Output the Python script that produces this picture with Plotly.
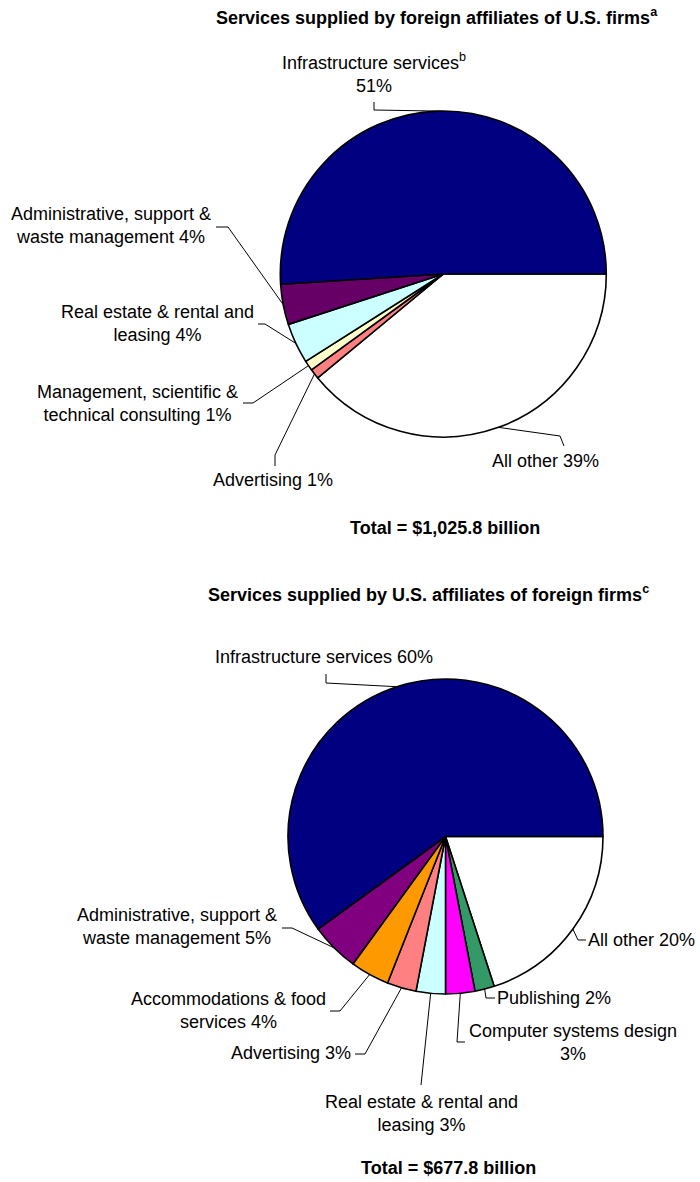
import math
import plotly.graph_objects as go

# ---- data -------------------------------------------------------------
outward_labels = [
    "Infrastructure services",
    "Administrative, support & waste management",
    "Real estate & rental and leasing",
    "Management, scientific & technical consulting",
    "Advertising",
    "All other",
]
outward_values = [51, 4, 4, 1, 1, 39]
outward_colors = ["#000080", "#660066", "#CCFFFF", "#FFFFCC", "#FF8080", "#FFFFFF"]

inward_labels = [
    "Infrastructure services",
    "Administrative, support & waste management",
    "Accommodations & food services",
    "Advertising",
    "Real estate & rental and leasing",
    "Computer systems design",
    "Publishing",
    "All other",
]
inward_values = [60, 5, 4, 3, 3, 3, 2, 20]
inward_colors = ["#000080", "#800080", "#FF9900", "#FF8080", "#CCFFFF",
                 "#FF00FF", "#339966", "#FFFFFF"]

outward_total = "$1,025.8 billion"
inward_total = "$677.8 billion"

# ---- layout helpers ---------------------------------------------------
W, H = 700, 1182
FONT = "Arial, Liberation Sans, sans-serif"


def px(x):
    return x / W


def py(y):
    return 1 - y / H


def edge_point(values, idx, cx, cy, r):
    """Point on the rim at the middle of slice idx (start at 3 o'clock, counterclockwise)."""
    total = float(sum(values))
    start = sum(values[:idx]) / total * 360.0
    mid = math.radians(start + values[idx] / total * 180.0)
    return cx + r * math.cos(mid), cy - r * math.sin(mid)


# pie placement (pixels)
P1 = dict(cx=443.3, cy=274.0, r=163.0)
P2 = dict(cx=445.5, cy=836.5, r=157.5)


def pie_trace(labels, values, colors, p):
    # slices run counterclockwise from 3 o'clock: feed them reversed, clockwise
    return go.Pie(
        labels=labels[::-1], values=values[::-1], sort=False,
        direction="clockwise", rotation=90,
        marker=dict(colors=colors[::-1], line=dict(color="#000000", width=1.6)),
        textinfo="none", hoverinfo="label+percent", showlegend=False,
        domain=dict(x=[px(p["cx"] - p["r"]), px(p["cx"] + p["r"])],
                    y=[py(p["cy"] + p["r"]), py(p["cy"] - p["r"])]),
    )


fig = go.Figure()
fig.add_trace(pie_trace(outward_labels, outward_values, outward_colors, P1))
fig.add_trace(pie_trace(inward_labels, inward_values, inward_colors, P2))

annotations = []
shapes = []


def label(text, x, y, size=18, bold=False):
    annotations.append(dict(
        text=f"<b>{text}</b>" if bold else text,
        x=px(x), y=py(y), xref="paper", yref="paper",
        xanchor="center", yanchor="middle", showarrow=False,
        font=dict(family=FONT, size=size, color="#000000"),
    ))


def leader(values, idx, p, pts):
    ex, ey = edge_point(values, idx, p["cx"], p["cy"], p["r"])
    path = f"M {px(ex)} {py(ey)}" + "".join(f" L {px(x)} {py(y)}" for x, y in pts)
    shapes.append(dict(type="path", path=path, xref="paper", yref="paper",
                       line=dict(color="#000000", width=1)))


# ---- upper pie: services supplied by foreign affiliates of U.S. firms ----
label("Services supplied by foreign affiliates of U.S. firms<sup>a</sup>", 437, 17, bold=True)

label(f"Infrastructure services<sup>b</sup><br>{outward_values[0]}%", 374, 73)
leader(outward_values, 0, P1, [(374, 110), (374, 102)])

label(f"Administrative, support &<br>waste management {outward_values[1]}%", 111, 226)
leader(outward_values, 1, P1, [(228, 227), (216, 227)])

label(f"Real estate & rental and<br>leasing {outward_values[2]}%", 157, 324)
leader(outward_values, 2, P1, [(265, 324), (258, 324)])

label(f"Management, scientific &<br>technical consulting {outward_values[3]}%", 137, 403)
leader(outward_values, 3, P1, [(253, 403), (243, 403)])

label(f"Advertising {outward_values[4]}%", 273, 480)
leader(outward_values, 4, P1, [(275, 455), (275, 466)])

label(f"All other {outward_values[5]}%", 545, 461)
leader(outward_values, 5, P1, [(560, 436), (564, 446)])

label(f"Total = {outward_total}", 445, 528, bold=True)

# ---- lower pie: services supplied by U.S. affiliates of foreign firms ----
label("Services supplied by U.S. affiliates of foreign firms<sup>c</sup>", 428, 593, bold=True)

label(f"Infrastructure services {inward_values[0]}%", 324, 657)
leader(inward_values, 0, P2, [(326, 683), (326, 674)])

label(f"Administrative, support &<br>waste management {inward_values[1]}%", 177, 926)
leader(inward_values, 1, P2, [(292, 928), (282, 928)])

label(f"Accommodations & food<br>services {inward_values[2]}%", 228, 1010)
leader(inward_values, 2, P2, [(340, 1011), (330, 1011)])

label(f"Advertising {inward_values[3]}%", 291, 1053)
leader(inward_values, 3, P2, [(365, 1054), (355, 1054)])

label(f"Real estate & rental and<br>leasing {inward_values[4]}%", 421, 1113)
leader(inward_values, 4, P2, [(421, 1085)])

label(f"Computer systems design<br>{inward_values[5]}%", 573, 1042)
leader(inward_values, 5, P2, [(457, 1042), (465, 1042)])

label(f"Publishing {inward_values[6]}%", 554, 998)
leader(inward_values, 6, P2, [(486, 998), (495, 998)])

label(f"All other {inward_values[7]}%", 641, 940)
leader(inward_values, 7, P2, [(578, 940), (586, 940)])

label(f"Total = {inward_total}", 448, 1168, bold=True)

fig.update_layout(
    width=W, height=H,
    margin=dict(l=0, r=0, t=0, b=0),
    paper_bgcolor="#FFFFFF", plot_bgcolor="#FFFFFF",
    annotations=annotations, shapes=shapes,
)

fig.write_html("out.html")
